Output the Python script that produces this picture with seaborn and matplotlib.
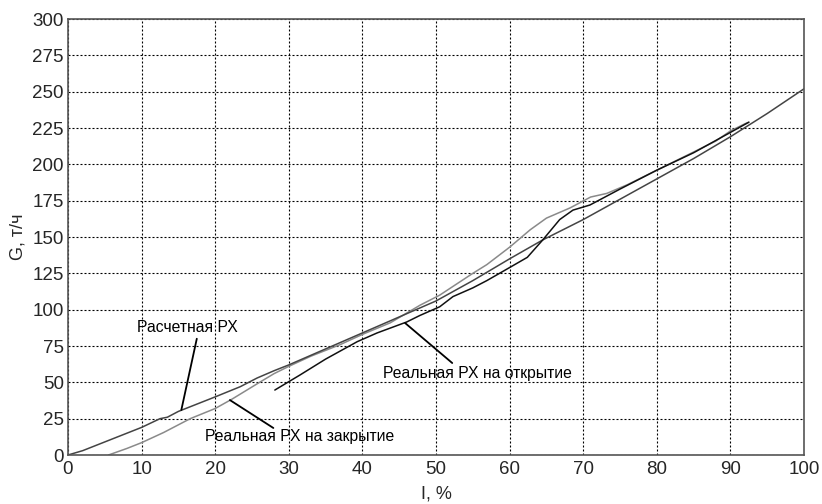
import numpy as np
import pandas as pd
import matplotlib
matplotlib.use("Agg")
import matplotlib.pyplot as plt
import seaborn as sns

# calculated valve characteristic
calc_x = [0, 2, 5, 8, 10, 12.5, 13.5, 15, 17, 19, 20, 23.4, 25.7, 28, 30, 35, 40, 45, 50, 55, 60, 64.5, 70, 75, 80, 85, 90, 95, 100]
calc_y = [0, 3, 9, 15, 19, 25, 26, 30, 34, 38, 40, 47, 53, 58, 62, 73, 84, 95, 106, 120, 135, 148, 162, 176, 190, 204, 219, 235, 252]

# real characteristic, closing
close_x = [5.5, 8, 10, 13, 16.6, 20, 22.3, 25.7, 28, 30, 33, 37, 40, 43.8, 47.8, 50.5, 52.3, 55, 56.9, 60, 62.8, 65, 68.2, 71, 73.2, 76, 80, 84, 88, 90, 92, 92.5]
close_y = [0, 4.5, 8.5, 15.5, 25, 32, 38.5, 49, 56, 61, 68, 76, 83, 91, 103, 110, 116, 125, 131, 143, 155, 163, 170, 177.5, 180, 186, 196, 206, 216, 223, 228, 229]

# real characteristic, opening
open_x = [28.1, 31.5, 35, 39.3, 42, 46, 47.8, 50.5, 52.3, 55, 56.9, 60, 62.4, 64.5, 66.8, 68.6, 70.9, 75, 80, 85, 90, 92.5]
open_y = [44.7, 55, 66, 78, 84, 91.5, 96, 102, 109, 115, 120, 129, 136, 148, 162, 168.5, 172, 183, 196, 208, 222, 229]

# labels: text, text position, leader line start, leader line end
label_texts = ["Расчетная РХ", "Реальная РХ на закрытие", "Реальная РХ на открытие"]
label_pos = [(16.2, 88), (31.5, 12.4), (55.6, 56.4)]
leader_from = [(17.5, 80), (27.9, 18.6), (52.2, 63.3)]
leader_to = [(15.4, 31), (22.0, 37.8), (45.8, 90.8)]

x_ticks = list(range(0, 101, 10))
y_ticks = list(range(0, 301, 25))

sns.set_theme(style="white")
plt.rcParams["font.family"] = ["Liberation Sans", "DejaVu Sans"]

fig = plt.figure(figsize=(8.22, 5.04), dpi=100)
ax = fig.add_axes([0.0827, 0.0972, 0.8955, 0.8651])

df_calc = pd.DataFrame({"x": calc_x, "y": calc_y})
df_close = pd.DataFrame({"x": close_x, "y": close_y})
df_open = pd.DataFrame({"x": open_x, "y": open_y})

sns.lineplot(data=df_close, x="x", y="y", ax=ax, color="#8a8a8a", linewidth=1.1, sort=False, estimator=None)
sns.lineplot(data=df_calc, x="x", y="y", ax=ax, color="#444444", linewidth=1.1, sort=False, estimator=None)
sns.lineplot(data=df_open, x="x", y="y", ax=ax, color="#111111", linewidth=1.1, sort=False, estimator=None)

for t, p, a, b in zip(label_texts, label_pos, leader_from, leader_to):
    ax.plot([a[0], b[0]], [a[1], b[1]], color="black", linewidth=1.3)
    ax.text(p[0], p[1], t, ha="center", va="center", fontsize=11.3, color="black")

ax.set_xlim(0, 100)
ax.set_ylim(0, 300)
ax.set_xticks(x_ticks)
ax.set_yticks(y_ticks)
ax.grid(True, color="black", linestyle=(0, (1.8, 1.8)), linewidth=0.8)
ax.tick_params(labelsize=13.5, length=0)
ax.tick_params(axis="x", pad=4)
ax.tick_params(axis="y", pad=3)
ax.set_xlabel("I, %", fontsize=13, labelpad=6)
ax.set_ylabel("G, т/ч", fontsize=13, labelpad=4)
for s in ax.spines.values():
    s.set_visible(True)
    s.set_color("#555555")
    s.set_linewidth(1.2)

fig.savefig("out.png", dpi=100)
